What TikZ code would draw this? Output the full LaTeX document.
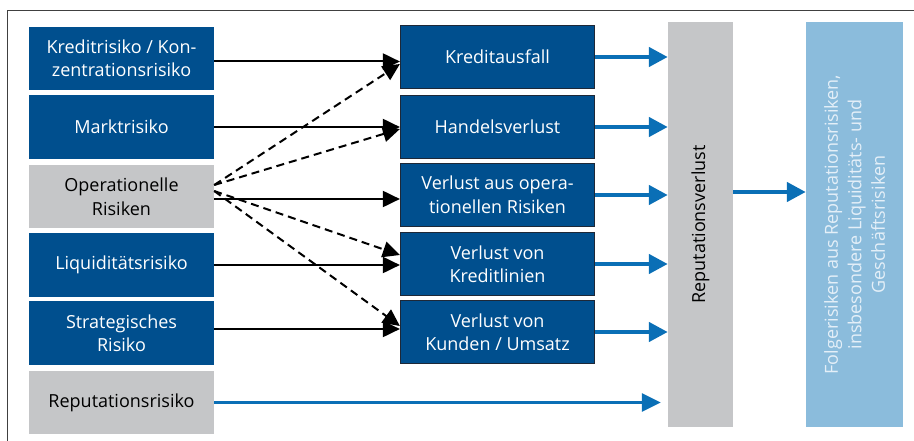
\documentclass[tikz,border=0pt]{standalone}
\usepackage{fontspec}
\setmainfont{Open Sans}
\usetikzlibrary{arrows.meta}
\definecolor{dblue}{HTML}{004F8E}
\definecolor{lgray}{HTML}{C5C6C8}
\definecolor{lblue}{HTML}{8BBCDC}
\definecolor{ablue}{HTML}{0A6FB6}
\definecolor{ftext}{HTML}{E4EFF8}
\definecolor{bord}{HTML}{1E2837}
\tikzset{
  txt/.style={font=\fontsize{18}{23.5}\selectfont, align=center, inner sep=0pt},
  lbox/.style={txt, fill=dblue, text=white, minimum width=185pt},
  gbox/.style={txt, fill=lgray, text=black, minimum width=185pt},
  mbox/.style={txt, fill=dblue, text=white, draw=bord, line width=1.2pt, minimum width=194pt, minimum height=63pt},
  blk/.style={line width=2pt, -{Triangle[length=17pt,width=16pt]}},
  dsh/.style={line width=2pt, dash pattern=on 8pt off 5pt, -{Triangle[length=17pt,width=16pt]}},
  blu/.style={draw=ablue, line width=4.5pt, -{Triangle[length=19pt,width=19pt]}},
  bluthin/.style={draw=ablue, line width=3pt, -{Triangle[length=19pt,width=18pt]}},
}
\begin{document}
\begin{tikzpicture}[x=1pt,y=-1pt]
\useasboundingbox (0,0) rectangle (914,441);
\draw[line width=1pt, black!75] (7,441) -- (7,11) -- (914,11);
% left column
\node[lbox, minimum height=63pt] (L1) at (121.5,58.5) {Kreditrisiko / Kon-\\zentrationsrisiko};
\node[lbox, minimum height=64pt] (L2) at (121.5,127) {Marktrisiko};
\node[gbox, minimum height=63pt] (L3) at (121.5,196.5) {Operationelle\\Risiken};
\node[lbox, minimum height=64pt] (L4) at (121.5,265) {Liquiditätsrisiko};
\node[lbox, minimum height=64pt] (L5) at (121.5,333) {Strategisches\\Risiko};
\node[gbox, minimum height=63pt] (L6) at (121.5,402.5) {Reputationsrisiko};
% middle column
\node[mbox] (M1) at (497.5,57) {Kreditausfall};
\node[mbox] (M2) at (497.5,127) {Handelsverlust};
\node[mbox] (M3) at (497.5,195) {Verlust aus opera-\\tionellen Risiken};
\node[mbox] (M4) at (497.5,264) {Verlust von\\Kreditlinien};
\node[mbox] (M5) at (497.5,332) {Verlust von\\Kunden / Umsatz};
% right
\node[txt, fill=lgray, minimum width=65pt, minimum height=405pt] (R) at (700.5,224.5) {};
\node[txt, rotate=90] at (R.center) {Reputationsverlust};
\node[txt, fill=lblue, minimum width=97pt, minimum height=405pt] (F) at (854.5,224.5) {};
\node[txt, rotate=90, text=ftext] at (F.center) {Folgerisiken aus Reputationsrisiken,\\insbesondere Liquiditäts- und\\Geschäftsrisiken};
% solid arrows
\draw[blk] ([yshift=-3pt]L1.east) -- ([yshift=-3pt]L1.east -| M1.west);
\draw[blk] (L2.east) -- (L2.east -| M2.west);
\draw[blk] ([yshift=-2.5pt]L3.east) -- ([yshift=-2.5pt]L3.east -| M3.west);
\draw[blk] (L4.east) -- (L4.east -| M4.west);
\draw[blk] ([yshift=4pt]L5.east) -- ([yshift=4pt]L5.east -| M5.west);
% dashed arrows
\draw[dsh] ([yshift=11.5pt]L3.east) -- ([yshift=-7pt]M1.west);
\draw[dsh] ([yshift=11.5pt]L3.east) -- ([yshift=-2pt]M2.west);
\draw[dsh] ([yshift=5.5pt]L3.east) -- ([yshift=9pt]M4.west);
\draw[dsh] ([yshift=5.5pt]L3.east) -- ([yshift=6pt]M5.west);
% blue arrows
\foreach \m in {M1,M2,M3,M4,M5}{
  \draw[blu] (\m.east) -- (\m.east -| R.west);
}
\draw[bluthin] (L6.east) -- ([xshift=-7pt]L6.east -| R.west);
\draw[blu] ([yshift=3pt]M3.east -| R.east) -- ([yshift=3pt]M3.east -| F.west);
\end{tikzpicture}
\end{document}
